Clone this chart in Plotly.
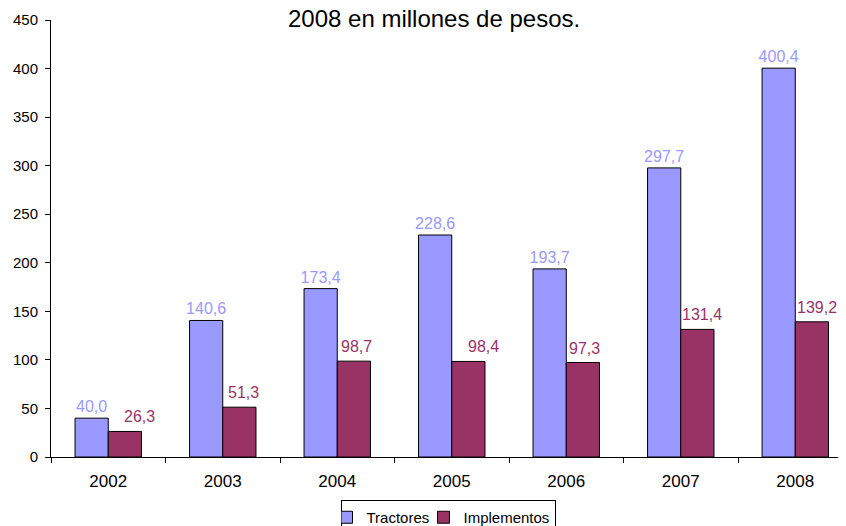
import plotly.graph_objects as go

years = ["2002", "2003", "2004", "2005", "2006", "2007", "2008"]
tractores = [40.0, 140.6, 173.4, 228.6, 193.7, 297.7, 400.4]
implementos = [26.3, 51.3, 98.7, 98.4, 97.3, 131.4, 139.2]

# small horizontal nudges of the Implementos value labels (px), as in the source
impl_label_nudge = [15, 4, 3, 15, 2, 5, 5]

def fmt(v):
    return f"{v:.1f}".replace(".", ",")

C_T = "#9999FF"
C_I = "#993366"
FONT = "Liberation Sans, Arial, sans-serif"

# the page body adds an 8px margin; the figure is sized to fit the window
W, H = 838, 518
L, T, B = 43, 12, 69
PLOT_W = W - L

fig = go.Figure()
fig.add_trace(go.Bar(
    x=years, y=tractores, name="Tractores\u00a0",
    marker=dict(color=C_T, line=dict(color="black", width=1)),
    text=[fmt(v) for v in tractores], textposition="outside",
    constraintext="none",
    textfont=dict(color=C_T, size=16, family=FONT), cliponaxis=False,
))
fig.add_trace(go.Bar(
    x=years, y=implementos, name="Implementos",
    marker=dict(color=C_I, line=dict(color="black", width=1)),
    cliponaxis=False,
))

BAR_HALF = 16.6
for i, (v, dx) in enumerate(zip(implementos, impl_label_nudge)):
    fig.add_annotation(
        x=i, y=v, xref="x", yref="y", text=fmt(v), showarrow=False,
        yanchor="bottom", xanchor="center", xshift=BAR_HALF + dx, yshift=4,
        font=dict(color=C_I, size=16, family=FONT),
    )

fig.update_layout(
    width=W, height=H,
    margin=dict(l=L, r=0, t=T, b=B, autoexpand=False),
    paper_bgcolor="white", plot_bgcolor="white",
    font=dict(family=FONT, size=15, color="black"),
    barmode="group", bargap=0.42, bargroupgap=0,
    showlegend=True,
    legend=dict(orientation="h", x=440 / W, xref="container", xanchor="center",
                y=(H - 492) / H, yref="container", yanchor="top",
                bordercolor="black", borderwidth=1, indentation=-15,
                font=dict(size=15, family=FONT), itemwidth=30,
                traceorder="normal"),
)
fig.update_xaxes(
    type="category", range=[-0.5, 6.443], showline=True, linecolor="black",
    linewidth=1, ticks="outside", tickson="boundaries", ticklen=5,
    tickcolor="black", showgrid=False, tickfont=dict(size=17), automargin=False,
    ticklabelstandoff=9,
)
fig.update_yaxes(
    range=[0, 450], dtick=50, showline=True, linecolor="black", linewidth=1,
    ticks="outside", ticklen=5, tickcolor="black", showgrid=False,
    zeroline=False, tickfont=dict(size=15), automargin=False,
    ticklabelstandoff=4,
)
fig.add_annotation(
    text="2008 en millones de pesos.", xref="paper", yref="paper",
    x=(426 - L) / PLOT_W, y=1, yshift=2, yanchor="middle", showarrow=False,
    font=dict(size=24, family=FONT, color="black"),
)
fig.write_html("out.html")
